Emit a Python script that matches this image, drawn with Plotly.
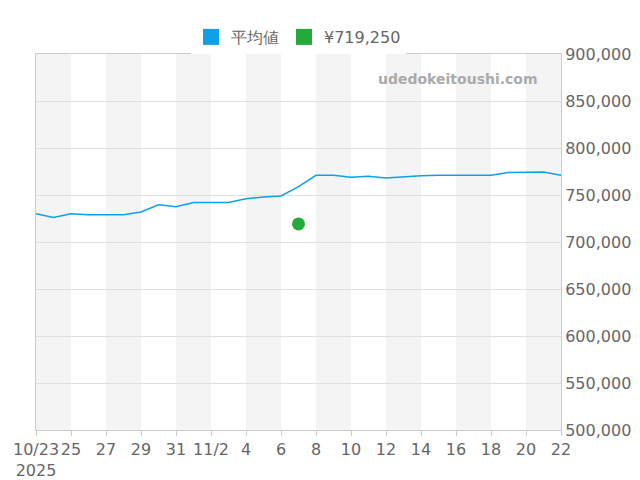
import pandas as pd
import plotly.graph_objects as go

dates = pd.date_range('2025-10-23', '2025-11-22', freq='D')
avg_price = [730000, 726000, 730000, 729000, 729000, 729000, 732000, 739500, 737500,
             742000, 742000, 742000, 746000, 748000, 749000, 759000, 771000, 771000,
             769000, 770000, 768000, 769500, 770500, 771000, 771000, 771000, 771000,
             774000, 774000, 774500, 771000]
point_date = ['2025-11-07']
point_price = [719250]

tick_dates = dates[::2]
tick_text = ['10/23<br>2025' if d.day == 23 else ('11/2' if d.day == 2 else str(d.day)) for d in tick_dates]

fig = go.Figure()
# gray bands every other 2 days
for start in dates[::4]:
    fig.add_vrect(x0=start, x1=start + pd.Timedelta(days=2), fillcolor='#f4f4f4',
                  line_width=0, layer='below')

fig.add_trace(go.Scatter(x=dates, y=avg_price, mode='lines', showlegend=False,
                         line=dict(color='#0fa0e6', width=1.5)))
fig.add_trace(go.Scatter(x=point_date, y=point_price, mode='markers', showlegend=False,
                         marker=dict(color='#22aa3a', size=13)))
# legend boxes
fig.add_trace(go.Scatter(x=[None], y=[None], name='平均値', mode='markers',
                         marker=dict(color='#0fa0e6', symbol='square', size=20)))
fig.add_trace(go.Scatter(x=[None], y=[None], name='¥719,250', mode='markers',
                         marker=dict(color='#22aa3a', symbol='square', size=20)))

fig.add_annotation(text='udedokeitoushi.com', xref='paper', yref='paper', x=0.96, y=0.96,
                   xanchor='right', yanchor='top', showarrow=False,
                   font=dict(size=14, color='#aaaaaa', family='DejaVu Sans', weight='bold'))

fig.update_layout(
    width=640, height=480,
    margin=dict(l=28, r=87, t=38, b=58),
    paper_bgcolor='white', plot_bgcolor='white',
    font=dict(family='DejaVu Sans', size=16, color='#666666'),
    legend=dict(orientation='h', x=0.5, xanchor='center', y=1.0, yanchor='bottom',
                font=dict(size=16, color='#666666'), itemsizing='trace'),
)
fig.update_xaxes(range=[dates[0], dates[-1]], tickvals=tick_dates, ticktext=tick_text,
                 tickangle=0, automargin=False,
                 showgrid=False, showline=True, linecolor='#cccccc', ticks='outside',
                 tickcolor='#cccccc', mirror=True)
fig.update_yaxes(range=[500000, 900000], side='right', dtick=50000, tickformat=',',
                 automargin=False,
                 gridcolor='#e0e0e0', showline=True, linecolor='#cccccc', mirror=True)
fig.write_html('out.html')
